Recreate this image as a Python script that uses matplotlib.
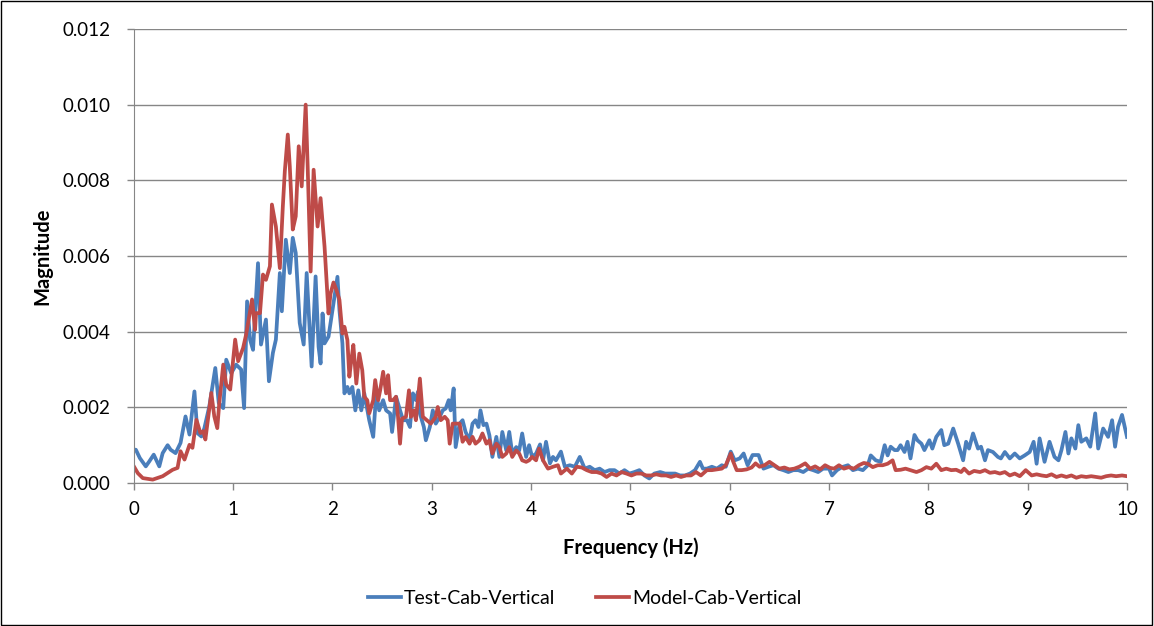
import matplotlib.pyplot as plt
from matplotlib.patches import Rectangle

plt.rcParams['font.family'] = ['Lato', 'DejaVu Sans']

# Test-Cab-Vertical
test_hz = [0.00, 0.02, 0.06, 0.12, 0.155, 0.20, 0.256, 0.29, 0.34, 0.37, 0.42, 0.47, 0.52, 0.56, 0.61,
           0.64, 0.68, 0.71, 0.76, 0.82, 0.855, 0.90, 0.93, 0.98, 1.03, 1.08, 1.11, 1.14, 1.17, 1.20,
           1.25, 1.28, 1.33, 1.36, 1.40, 1.43, 1.47, 1.49, 1.53, 1.57, 1.60, 1.63, 1.67, 1.71, 1.74,
           1.79, 1.83, 1.86, 1.88, 1.90, 1.92, 1.96, 1.99, 2.05, 2.07, 2.10, 2.12, 2.15, 2.17, 2.20,
           2.23, 2.26, 2.29, 2.32, 2.37, 2.41, 2.44, 2.47, 2.51, 2.54, 2.58, 2.60, 2.64, 2.68, 2.71,
           2.75, 2.78, 2.81, 2.84, 2.86, 2.88, 2.92, 2.94, 2.98, 3.01, 3.04, 3.08, 3.11, 3.14, 3.17,
           3.19, 3.22, 3.24, 3.28, 3.31, 3.34, 3.38, 3.41, 3.44, 3.47, 3.49, 3.52, 3.55, 3.58, 3.61,
           3.65, 3.68, 3.71, 3.75, 3.78, 3.81, 3.85, 3.88, 3.91, 3.95, 3.98, 4.01, 4.05, 4.09, 4.12,
           4.15, 4.19, 4.22, 4.25, 4.30, 4.34, 4.39, 4.44, 4.49, 4.54, 4.59, 4.64, 4.69, 4.74, 4.79,
           4.84, 4.89, 4.94, 4.99, 5.04, 5.09, 5.14, 5.19, 5.24, 5.30, 5.35, 5.40, 5.45, 5.50, 5.55,
           5.60, 5.65, 5.70, 5.73, 5.77, 5.82, 5.87, 5.92, 5.96, 6.01, 6.05, 6.10, 6.14, 6.18, 6.23,
           6.29, 6.34, 6.39, 6.44, 6.49, 6.54, 6.59, 6.64, 6.69, 6.74, 6.79, 6.84, 6.89, 6.94, 7.00,
           7.03, 7.08, 7.13, 7.19, 7.24, 7.29, 7.34, 7.39, 7.42, 7.47, 7.52, 7.56, 7.59, 7.62, 7.66,
           7.69, 7.72, 7.76, 7.79, 7.82, 7.86, 7.89, 7.93, 7.96, 8.01, 8.04, 8.08, 8.13, 8.16, 8.20,
           8.25, 8.30, 8.35, 8.38, 8.41, 8.45, 8.50, 8.53, 8.57, 8.60, 8.65, 8.70, 8.73, 8.77, 8.82,
           8.87, 8.92, 8.97, 9.02, 9.06, 9.09, 9.12, 9.17, 9.22, 9.27, 9.31, 9.34, 9.38, 9.41, 9.44,
           9.48, 9.51, 9.54, 9.59, 9.63, 9.68, 9.71, 9.76, 9.81, 9.85, 9.88, 9.91, 9.95, 10.00]
test_mag = [0.88, 0.88, 0.66, 0.44, 0.57, 0.75, 0.44, 0.79, 1.00, 0.88, 0.79, 1.06, 1.76, 1.28, 2.42,
            1.32, 1.23, 1.45, 2.03, 3.04, 2.11, 1.98, 3.26, 2.90, 3.13, 3.00, 1.98, 4.80, 3.79, 3.52,
            5.81, 3.66, 4.32, 2.69, 3.44, 3.79, 5.55, 4.54, 6.43, 5.55, 6.48, 6.08, 4.23, 3.66, 5.55,
            3.08, 5.46, 3.60, 3.16, 4.48, 3.69, 3.87, 4.40, 5.45, 4.57, 3.69, 2.37, 2.54, 2.37, 2.54,
            1.92, 2.45, 1.92, 2.37, 1.66, 1.22, 2.37, 1.92, 2.19, 1.92, 1.84, 1.35, 2.28, 1.92, 1.66,
            1.66, 1.48, 2.37, 2.19, 2.41, 1.84, 1.48, 1.13, 1.48, 1.92, 1.57, 1.75, 1.92, 1.97, 2.19,
            1.92, 2.50, 0.95, 1.57, 1.66, 1.35, 1.13, 1.57, 1.66, 1.48, 1.92, 1.53, 1.57, 1.26, 0.69,
            1.22, 0.69, 1.35, 0.86, 1.35, 0.78, 0.95, 0.86, 1.31, 0.69, 1.00, 0.69, 0.78, 1.02, 0.60,
            1.09, 0.52, 0.69, 0.60, 0.83, 0.43, 0.47, 0.43, 0.69, 0.38, 0.43, 0.34, 0.38, 0.29, 0.34,
            0.34, 0.25, 0.34, 0.25, 0.29, 0.34, 0.20, 0.12, 0.25, 0.29, 0.25, 0.25, 0.25, 0.20, 0.20,
            0.25, 0.34, 0.56, 0.38, 0.38, 0.43, 0.38, 0.47, 0.43, 0.83, 0.60, 0.65, 0.78, 0.47, 0.74,
            0.74, 0.38, 0.43, 0.47, 0.38, 0.34, 0.29, 0.34, 0.34, 0.29, 0.38, 0.34, 0.29, 0.38, 0.38,
            0.20, 0.34, 0.42, 0.47, 0.34, 0.38, 0.34, 0.47, 0.73, 0.60, 0.56, 1.00, 0.73, 0.96, 0.87,
            0.87, 1.00, 0.82, 1.09, 0.65, 1.27, 1.13, 1.04, 0.87, 1.13, 0.91, 1.22, 1.40, 1.00, 1.04,
            1.44, 1.04, 0.60, 1.09, 0.91, 1.31, 0.91, 0.96, 0.60, 0.87, 0.82, 0.69, 0.65, 0.82, 0.65,
            0.78, 0.65, 0.73, 0.82, 1.09, 0.51, 1.18, 0.56, 1.09, 0.69, 0.60, 0.87, 1.35, 0.78, 1.18,
            0.91, 1.53, 1.09, 1.18, 0.96, 1.84, 0.91, 1.44, 1.22, 1.66, 0.96, 1.49, 1.80, 1.22]

# Model-Cab-Vertical
model_hz = [0.00, 0.04, 0.09, 0.19, 0.29, 0.39, 0.44, 0.47, 0.51, 0.56, 0.59, 0.63, 0.67, 0.70, 0.72,
            0.78, 0.81, 0.84, 0.86, 0.90, 0.93, 0.97, 1.02, 1.05, 1.10, 1.13, 1.15, 1.19, 1.22, 1.23,
            1.27, 1.30, 1.33, 1.37, 1.39, 1.43, 1.47, 1.50, 1.52, 1.55, 1.57, 1.60, 1.63, 1.66, 1.69,
            1.73, 1.75, 1.78, 1.81, 1.85, 1.88, 1.92, 1.96, 1.98, 2.01, 2.04, 2.07, 2.10, 2.12, 2.15,
            2.17, 2.19, 2.21, 2.24, 2.27, 2.30, 2.32, 2.35, 2.37, 2.41, 2.43, 2.46, 2.48, 2.51, 2.54,
            2.56, 2.58, 2.61, 2.64, 2.66, 2.68, 2.70, 2.74, 2.77, 2.79, 2.82, 2.84, 2.88, 2.91, 2.95,
            2.99, 3.04, 3.06, 3.09, 3.13, 3.16, 3.18, 3.21, 3.24, 3.28, 3.31, 3.34, 3.38, 3.41, 3.44,
            3.48, 3.51, 3.55, 3.58, 3.61, 3.65, 3.68, 3.71, 3.75, 3.78, 3.81, 3.85, 3.88, 3.91, 3.95,
            3.98, 4.01, 4.05, 4.08, 4.12, 4.17, 4.22, 4.27, 4.30, 4.36, 4.41, 4.46, 4.51, 4.56, 4.61,
            4.66, 4.71, 4.76, 4.81, 4.86, 4.91, 4.96, 5.01, 5.06, 5.11, 5.16, 5.21, 5.26, 5.31, 5.36,
            5.41, 5.46, 5.51, 5.56, 5.61, 5.66, 5.71, 5.77, 5.82, 5.87, 5.92, 5.96, 6.01, 6.03, 6.07,
            6.12, 6.17, 6.22, 6.26, 6.30, 6.35, 6.40, 6.45, 6.50, 6.55, 6.60, 6.65, 6.70, 6.76, 6.81,
            6.86, 6.91, 6.96, 7.01, 7.05, 7.10, 7.15, 7.20, 7.25, 7.30, 7.35, 7.39, 7.44, 7.49, 7.54,
            7.59, 7.64, 7.67, 7.72, 7.77, 7.82, 7.88, 7.93, 7.98, 8.03, 8.08, 8.13, 8.18, 8.23, 8.28,
            8.33, 8.36, 8.41, 8.46, 8.52, 8.57, 8.62, 8.67, 8.72, 8.77, 8.82, 8.87, 8.92, 8.98, 9.04,
            9.09, 9.14, 9.19, 9.24, 9.29, 9.34, 9.39, 9.44, 9.49, 9.54, 9.59, 9.64, 9.69, 9.74, 9.79,
            9.84, 9.89, 9.95, 10.00]
model_mag = [0.44, 0.26, 0.13, 0.09, 0.18, 0.35, 0.40, 0.84, 0.62, 1.01, 0.93, 1.67, 1.32, 1.37, 1.15,
             2.38, 1.76, 1.45, 2.11, 3.13, 2.60, 2.47, 3.79, 3.22, 3.57, 3.92, 4.23, 4.85, 4.05, 4.49,
             4.49, 5.51, 5.37, 5.73, 7.36, 6.78, 5.68, 7.31, 8.24, 9.21, 8.37, 6.70, 7.05, 8.90, 7.84,
             10.0, 8.37, 5.59, 8.28, 6.78, 7.53, 6.25, 4.48, 5.00, 5.30, 5.10, 4.84, 3.95, 4.13, 3.78,
             2.81, 3.25, 3.65, 2.63, 3.42, 2.98, 2.28, 2.19, 1.84, 2.19, 2.72, 2.19, 2.45, 2.94, 2.37,
             2.85, 2.19, 2.19, 2.28, 1.75, 1.04, 1.70, 1.75, 2.45, 1.75, 1.92, 1.66, 2.76, 1.75, 1.66,
             1.57, 1.75, 2.01, 1.66, 1.75, 1.66, 1.04, 1.57, 1.57, 1.57, 1.09, 1.22, 1.04, 1.22, 1.04,
             1.13, 1.31, 1.04, 1.13, 0.78, 1.04, 0.95, 0.69, 0.78, 0.95, 0.69, 0.86, 0.78, 0.60, 0.56,
             0.60, 0.69, 0.60, 0.91, 0.60, 0.38, 0.43, 0.47, 0.25, 0.38, 0.25, 0.43, 0.41, 0.34, 0.29,
             0.29, 0.25, 0.16, 0.25, 0.20, 0.29, 0.25, 0.20, 0.25, 0.25, 0.20, 0.20, 0.23, 0.20, 0.20,
             0.16, 0.20, 0.16, 0.20, 0.20, 0.29, 0.20, 0.34, 0.34, 0.36, 0.38, 0.47, 0.78, 0.60, 0.34,
             0.34, 0.36, 0.41, 0.52, 0.43, 0.47, 0.56, 0.47, 0.38, 0.41, 0.36, 0.38, 0.43, 0.52, 0.38,
             0.44, 0.36, 0.47, 0.40, 0.38, 0.47, 0.38, 0.42, 0.38, 0.47, 0.53, 0.51, 0.42, 0.47, 0.47,
             0.51, 0.60, 0.34, 0.35, 0.38, 0.34, 0.29, 0.34, 0.42, 0.38, 0.51, 0.34, 0.38, 0.34, 0.35,
             0.29, 0.38, 0.25, 0.32, 0.29, 0.34, 0.27, 0.29, 0.25, 0.29, 0.20, 0.25, 0.18, 0.34, 0.20,
             0.23, 0.20, 0.18, 0.23, 0.16, 0.20, 0.16, 0.20, 0.14, 0.18, 0.16, 0.18, 0.16, 0.14, 0.18,
             0.20, 0.18, 0.20, 0.18]

fig = plt.figure(figsize=(11.54, 6.26), dpi=100)
ax = fig.add_axes([0.116, 0.2284, 0.8606, 0.7253])

ax.plot(test_hz, [v / 1000 for v in test_mag], color='#4A7EBB', lw=2.7, label='Test-Cab-Vertical')
ax.plot(model_hz, [v / 1000 for v in model_mag], color='#BE4B48', lw=2.7, label='Model-Cab-Vertical')

ax.set_xlim(0, 10)
ax.set_ylim(0, 0.012)
ax.set_xticks(range(0, 11))
ax.set_yticks([i * 0.002 for i in range(7)])
ax.set_yticklabels(['%.3f' % (i * 0.002) for i in range(7)])
ax.tick_params(labelsize=13.5, colors='#868686', labelcolor='black', length=5, width=1)
ax.tick_params(axis='y', pad=12)
ax.tick_params(axis='x', pad=8)

ax.grid(axis='y', color='#868686', lw=1)
ax.set_axisbelow(True)
for s in ['top', 'right']:
    ax.spines[s].set_visible(False)
for s in ['left', 'bottom']:
    ax.spines[s].set_color('#868686')

ax.set_xlabel('Frequency (Hz)', fontsize=14.5, fontweight='bold', labelpad=14)
ax.set_ylabel('Magnitude', fontsize=14.5, fontweight='bold', labelpad=7)

ax.legend(loc='center', bbox_to_anchor=(0.454, -0.255), ncol=2, frameon=False,
          fontsize=14, handlelength=1.7, columnspacing=2.1, handletextpad=0.15)

fig.add_artist(Rectangle((0.001, 0.001), 0.997, 0.997, transform=fig.transFigure,
                         fill=False, edgecolor='black', lw=1))

plt.savefig('out.png')
